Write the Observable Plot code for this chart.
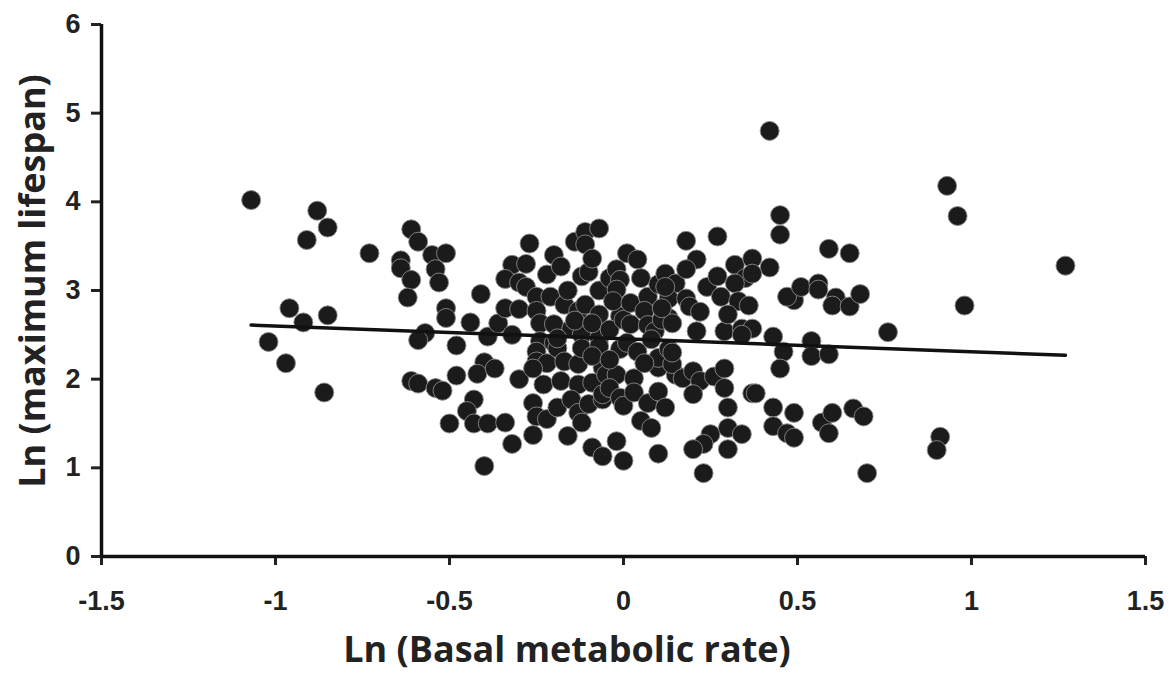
<!DOCTYPE html>
<html>
<head>
<meta charset="utf-8">
<script src="https://cdn.jsdelivr.net/npm/d3@7"></script>
<script src="https://cdn.jsdelivr.net/npm/@observablehq/plot@0.6"></script>
<style>
  html, body { margin: 0; padding: 0; background: #fff; }
  #chart svg { display: block; }
</style>
</head>
<body>
<div id="chart"></div>
<script>
// Ln(basal metabolic rate), Ln(maximum lifespan) per species
const speciesPoints = [
  [-1.07,4.02],[-0.88,3.90],[-0.85,3.71],[-0.91,3.57],[-0.73,3.42],
  [-0.96,2.80],[-0.92,2.64],[-0.85,2.72],[-1.02,2.42],[-0.97,2.18],[-0.86,1.85],
  [-0.61,3.69],[-0.59,3.55],[-0.64,3.34],[-0.64,3.25],[-0.61,3.12],[-0.62,2.92],
  [-0.55,3.40],[-0.57,2.52],[-0.59,2.44],[-0.61,1.98],[-0.59,1.95],
  [-0.51,3.42],[-0.54,3.24],[-0.53,3.09],[-0.41,2.96],[-0.51,2.80],[-0.51,2.69],[-0.44,2.64],
  [-0.48,2.38],[-0.39,2.48],[-0.36,2.63],[-0.40,2.19],[-0.42,2.06],[-0.37,2.12],[-0.48,2.04],
  [-0.54,1.90],[-0.52,1.87],[-0.43,1.77],[-0.45,1.64],[-0.50,1.50],[-0.43,1.50],[-0.39,1.50],
  [-0.40,1.02],[-0.34,2.80],[-0.32,2.50],[-0.34,1.51],[-0.32,1.27],[-0.32,3.29],[-0.34,3.13],
  [-0.30,3.09],[-0.30,2.79],[-0.30,2.00],
  [-0.27,3.53],[-0.28,3.30],[-0.28,3.04],[-0.25,2.93],[-0.22,3.18],[-0.20,3.40],[-0.21,2.93],
  [-0.25,2.77],[-0.24,2.63],[-0.20,2.62],[-0.24,2.43],[-0.20,2.41],[-0.25,2.31],[-0.25,2.20],
  [-0.22,2.18],[-0.23,1.94],[-0.26,1.73],[-0.25,1.58],[-0.22,1.55],[-0.19,1.68],[-0.26,1.37],
  [-0.26,2.12],[-0.18,3.27],[-0.17,2.84],[-0.13,2.77],[-0.15,2.57],[-0.19,2.35],[-0.17,2.20],
  [-0.13,2.17],[-0.18,1.98],[-0.13,1.94],[-0.15,1.77],[-0.13,1.62],[-0.12,1.51],[-0.16,1.36],
  [-0.19,2.46],[-0.14,3.55],[-0.11,3.66],[-0.11,3.52],[-0.12,3.16],[-0.10,3.21],[-0.11,2.84],
  [-0.12,2.50],[-0.12,2.35],[-0.10,1.72],[-0.16,3.00],[-0.14,2.66],
  [-0.07,3.70],[-0.09,3.36],[-0.07,3.00],[-0.07,2.73],[-0.07,2.46],[-0.09,2.63],[-0.07,2.37],
  [-0.06,2.13],[-0.09,1.96],[-0.06,1.77],[-0.09,1.23],[-0.06,1.13],[-0.09,2.26],[-0.05,2.05],
  [-0.06,1.83],[-0.04,3.14],[-0.02,3.24],[-0.01,3.12],[-0.02,3.01],[-0.01,2.71],[-0.04,2.56],
  [-0.01,2.34],[-0.02,2.05],[-0.04,1.90],[-0.02,1.30],[-0.01,1.79],[0.00,1.70],[0.00,1.08],
  [0.00,2.67],[-0.04,2.22],[-0.03,2.88],
  [0.01,3.42],[0.04,3.35],[0.05,3.14],[0.02,2.86],[0.07,2.93],[0.02,2.62],[0.06,2.77],
  [0.07,2.61],[0.01,2.41],[0.04,2.31],[0.03,2.01],[0.03,1.85],[0.07,1.73],[0.05,1.53],[0.08,1.45],
  [0.09,2.54],[0.08,2.45],[0.10,3.07],[0.10,2.13],[0.10,1.86],[0.10,1.16],[0.10,2.24],[0.06,2.18],
  [0.12,3.19],[0.15,3.08],[0.13,2.91],[0.13,2.69],[0.11,2.67],[0.14,2.63],[0.13,2.34],[0.15,2.05],
  [0.12,1.68],[0.14,2.17],[0.12,3.04],[0.11,2.80],
  [0.18,3.56],[0.27,3.61],[0.21,3.35],[0.18,3.24],[0.18,2.91],[0.19,2.82],[0.22,2.76],
  [0.21,2.54],[0.29,2.54],[0.17,2.01],[0.20,2.09],[0.22,1.98],[0.26,2.03],[0.29,2.12],[0.29,1.90],
  [0.20,1.83],[0.25,1.38],[0.23,1.27],[0.20,1.21],[0.23,0.94],[0.14,2.30],[0.24,3.04],[0.27,3.16],
  [0.28,2.93],
  [0.42,4.80],[0.45,3.85],[0.45,3.63],[0.32,3.29],[0.37,3.36],[0.42,3.26],[0.35,3.14],[0.37,3.19],
  [0.32,3.08],[0.33,2.88],[0.36,2.83],[0.30,2.73],[0.34,2.57],[0.37,2.57],[0.43,2.48],[0.46,2.31],
  [0.45,2.12],[0.34,2.50],[0.37,1.84],[0.38,1.84],[0.30,1.68],[0.43,1.68],[0.49,1.62],[0.43,1.47],
  [0.47,1.39],[0.49,1.34],[0.30,1.45],[0.34,1.38],[0.30,1.21],[0.49,2.89],[0.47,2.93],[0.51,3.04],
  [0.56,3.08],[0.56,3.01],[0.59,3.47],[0.65,3.42],[0.61,2.92],[0.60,2.83],[0.65,2.82],[0.68,2.96],
  [0.54,2.43],[0.54,2.26],[0.59,2.28],[0.76,2.53],[0.57,1.51],[0.60,1.62],
  [0.66,1.67],[0.69,1.58],[0.59,1.39],[0.70,0.94],[0.93,4.18],[0.96,3.84],[1.27,3.28],[0.98,2.83],
  [0.91,1.35],[0.90,1.20]
];

// regression line end points
const fitBMR = [-1.07, 1.27];
const fitLifespan = [2.61, 2.27];

const xTicks = [-1.5, -1, -0.5, 0, 0.5, 1, 1.5];
const yTicks = [0, 1, 2, 3, 4, 5, 6];
const xTitle = "Ln (Basal metabolic rate)";
const yTitle = "Ln (maximum lifespan)";

const dots = speciesPoints.map(([x, y]) => ({x, y}));
const fit = fitBMR.map((x, i) => ({x, y: fitLifespan[i]}));

const W = 1171, H = 677;
const chart = Plot.plot({
  width: W,
  height: H,
  marginLeft: 101,
  marginRight: 26,
  marginTop: 24,
  marginBottom: 121,
  style: {fontFamily: "'Liberation Sans', Arial, sans-serif", color: "#222", background: "#fff"},
  x: {domain: [-1.5, 1.5]},
  y: {domain: [0, 6]},
  marks: [
    Plot.axisX({ticks: xTicks, tickFormat: d => String(d), tickSize: 9, tickPadding: 25, fontSize: 27, fontWeight: "bold", strokeWidth: 3, label: null}),
    Plot.axisY({ticks: yTicks, tickFormat: d => String(d), tickSize: 10, tickPadding: 11, fontSize: 27, fontWeight: "bold", strokeWidth: 3, label: null}),
    Plot.ruleY([0], {stroke: "#111", strokeWidth: 3.5}),
    Plot.ruleX([-1.5], {stroke: "#111", strokeWidth: 3.5}),
    Plot.dot(dots, {x: "x", y: "y", r: 9.5, fill: "#1b1b1b", stroke: "#8a8a8a", strokeWidth: 0.9}),
    Plot.line(fit, {x: "x", y: "y", stroke: "#111", strokeWidth: 3.5})
  ]
});

const svg = d3.select(chart);
svg.append("text")
  .attr("x", 567).attr("y", 662)
  .attr("text-anchor", "middle")
  .attr("font-family", "'Open Sans', sans-serif")
  .attr("font-weight", "bold")
  .attr("font-size", 36)
  .attr("fill", "#222")
  .text(xTitle);
svg.append("text")
  .attr("transform", "translate(45,281) rotate(-90)")
  .attr("text-anchor", "middle")
  .attr("font-family", "'Open Sans', sans-serif")
  .attr("font-weight", "bold")
  .attr("font-size", 36)
  .attr("fill", "#222")
  .text(yTitle);

document.getElementById("chart").appendChild(chart);
</script>
</body>
</html>
